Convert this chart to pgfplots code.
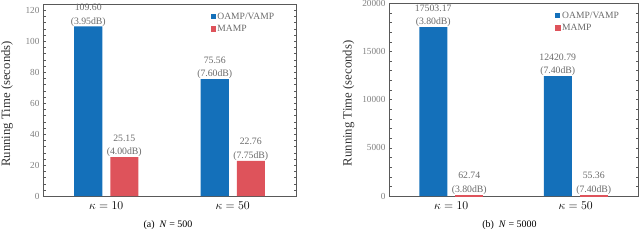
\documentclass[border=0pt]{standalone}
\usepackage{pgfplots}
\pgfplotsset{compat=1.18}
\usepackage{fontspec}
\setmainfont{Liberation Serif}
\definecolor{cblue}{HTML}{1470BA}
\definecolor{cred}{HTML}{DE535B}
\definecolor{tgray}{HTML}{808080}
\definecolor{lgray}{HTML}{6A6A6A}
\pgfplotsset{
 mystyle/.style={
  scale only axis,
  ybar, bar width=28bp,
  xmin=-0.5, xmax=1.5, xtick={0,1},
  xticklabels={$\kappa = 10$,$\kappa = 50$},
  x tick label style={font=\fontsize{12.8}{14}\selectfont, yshift=-2bp},
  xtick style={draw=none},
  axis line style={black!65, line width=0.8bp},
  tick align=inside,
  ytick style={black!65},
  major tick length=2.5bp, minor tick length=2.5bp,
  y tick label style={font=\fontsize{9.3}{10}\selectfont, text=tgray},
  /pgf/number format/assume math mode=true,
  scaled y ticks=false,
  /pgf/number format/1000 sep={},
  minor y tick num=4,
  ylabel={Running Time (seconds)},
  ylabel style={font=\fontsize{12.8}{14}\selectfont, text=black!80, anchor=center},
  nodes near coords, point meta=explicit symbolic,
  nodes near coords style={font=\fontsize{9.8}{13.7}\selectfont, text=lgray, align=center, inner sep=0.5pt, anchor=south, yshift=-0.5bp},
  legend style={draw=none, fill=none, font=\fontsize{9.6}{11}\selectfont, text=lgray, anchor=north west, row sep=2.5bp, inner sep=0pt, nodes={inner sep=1pt}},
  legend cell align=left,
 },
 sqleg/.style={legend image code/.code={\fill[##1] (0bp,-2.6bp) rectangle (5.2bp,2.6bp);}},
}
\begin{document}
\begin{tikzpicture}
\path[use as bounding box] (0,0) rectangle (640bp,-247bp);
% left panel
\begin{axis}[mystyle, at={(43bp,-196bp)}, anchor=south west,
  width=253bp, height=192bp, ymin=0, ymax=124, ytick={0,20,...,120},
  ylabel style={at={(axis description cs:-0.142,0.48)}},
  legend style={at={(0.664,0.96)}}]
\addplot[sqleg, fill=cblue, draw=none, bar shift=-18bp] coordinates {(0,109.60) [{109.60\\(3.95dB)}] (1,75.56) [{75.56\\(7.60dB)}]};
\addplot[sqleg, fill=cred, draw=none, bar shift=18bp] coordinates {(0,25.15) [{25.15\\(4.00dB)}] (1,22.76) [{22.76\\(7.75dB)}]};
\legend{OAMP/VAMP, MAMP}
\end{axis}
\node[font=\fontsize{10}{12}\selectfont] at (168bp,-225bp) {(a)\ \ \textit{N} = 500};
% right panel
\begin{axis}[mystyle, at={(389bp,-196bp)}, anchor=south west,
  width=249bp, height=193bp, ymin=0, ymax=20000, ytick={0,5000,...,20000},
  ylabel style={at={(axis description cs:-0.162,0.48)}},
  legend style={at={(0.664,0.96)}}]
\addplot[sqleg, fill=cblue, draw=none, bar shift=-18bp] coordinates {(0,17503.17) [{17503.17\\(3.80dB)}] (1,12420.79) [{12420.79\\(7.40dB)}]};
\addplot[sqleg, fill=cred, draw=cred, line width=1.5bp, bar width=26.5bp, bar shift=18bp] coordinates {(0,62.74) [{62.74\\(3.80dB)}] (1,55.36) [{55.36\\(7.40dB)}]};
\legend{OAMP/VAMP, MAMP}
\end{axis}
\node[font=\fontsize{10}{12}\selectfont] at (509.5bp,-225bp) {(b)\ \ \textit{N} = 5000};
\end{tikzpicture}
\end{document}
